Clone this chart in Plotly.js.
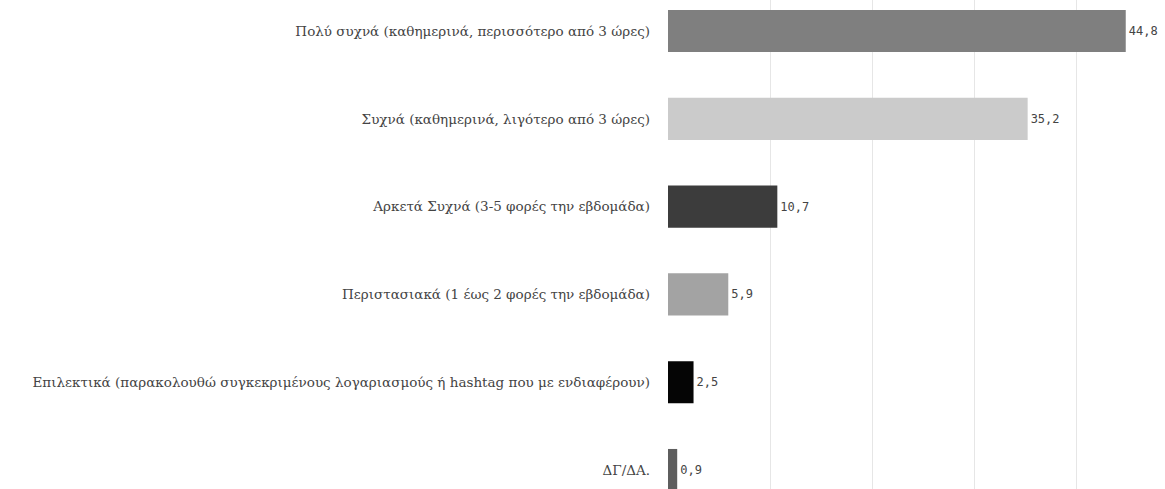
<!DOCTYPE html>
<html>
<head>
<meta charset="utf-8">
<script src="https://cdn.plot.ly/plotly-3.0.1.min.js"></script>
<style>html,body{margin:0;padding:0;background:#fff;}#chart{width:1165px;height:489px;}</style>
</head>
<body>
<div id="chart"></div>
<script>
const categories = [
  "Πολύ συχνά (καθημερινά, περισσότερο από 3 ώρες)",
  "Συχνά (καθημερινά, λιγότερο από 3 ώρες)",
  "Αρκετά Συχνά (3-5 φορές την εβδομάδα)",
  "Περιστασιακά (1 έως 2 φορές την εβδομάδα)",
  "Επιλεκτικά (παρακολουθώ συγκεκριμένους λογαριασμούς ή hashtag που με ενδιαφέρουν)",
  "ΔΓ/ΔΑ."
];
const values = [44.8, 35.2, 10.7, 5.9, 2.5, 0.9];
const barColors = ["#7f7f7f", "#cbcbcb", "#3c3c3c", "#a3a3a3", "#050505", "#5e5e5e"];

const labels = values.map(v => v.toFixed(1).replace('.', ','));

const trace = {
  type: 'bar',
  orientation: 'h',
  x: values,
  y: categories,
  marker: { color: barColors },
  text: labels,
  textposition: 'outside',
  cliponaxis: false,
  textfont: { family: 'DejaVu Sans Mono', size: 12, color: '#444444' },
  outsidetextfont: { family: 'DejaVu Sans Mono', size: 12, color: '#444444' },
  hoverinfo: 'none'
};

const layout = {
  width: 1165,
  height: 489,
  margin: { l: 668, r: 27, t: 0, b: 0, pad: 0 },
  paper_bgcolor: '#ffffff',
  plot_bgcolor: '#ffffff',
  bargap: 0.52,
  showlegend: false,
  font: { family: 'DejaVu Serif', size: 13.5, color: '#444' },
  xaxis: {
    range: [0, 46],
    showgrid: true,
    gridcolor: '#e6e6e6',
    gridwidth: 1,
    dtick: 10,
    showticklabels: false,
    zeroline: false,
    showline: false,
    ticks: ''
  },
  yaxis: {
    type: 'category',
    range: [5.216, -0.353],
    showgrid: false,
    zeroline: false,
    showline: false,
    ticks: '',
    ticklabelstandoff: 17,
    tickfont: { family: 'DejaVu Serif', size: 13.5, color: '#444' }
  }
};

Plotly.newPlot('chart', [trace], layout, { displayModeBar: false, staticPlot: true });
</script>
</body>
</html>
